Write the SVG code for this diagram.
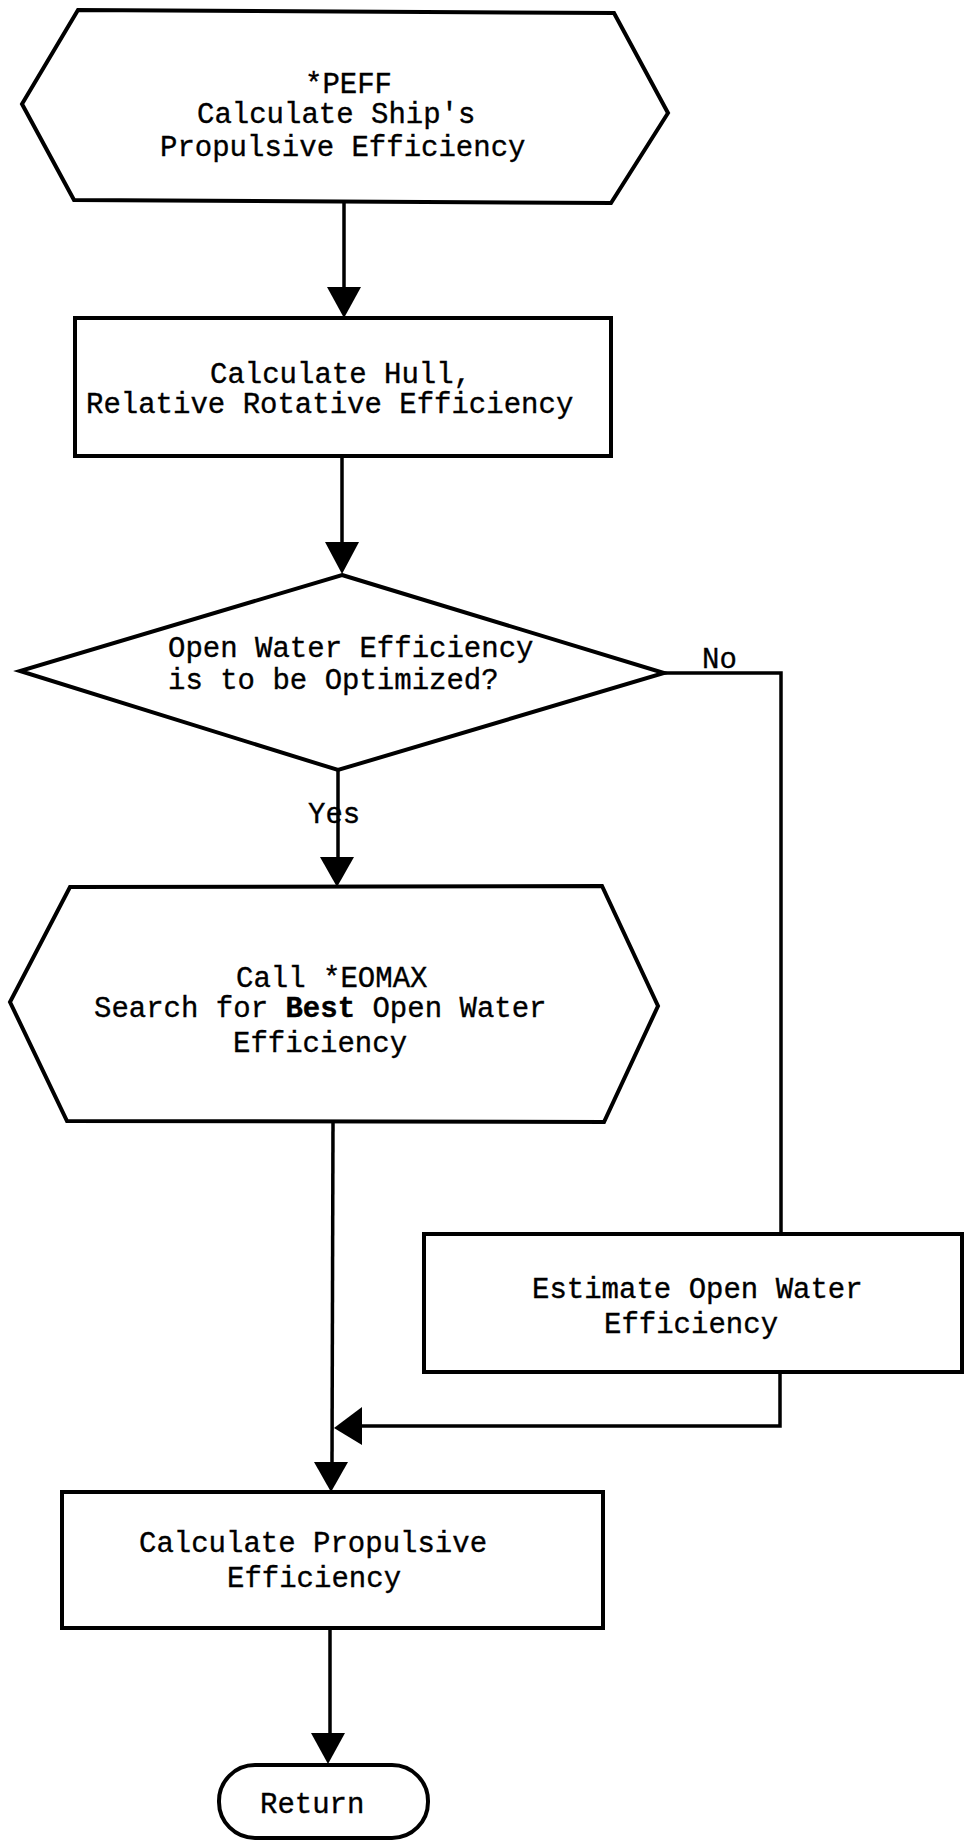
<svg xmlns="http://www.w3.org/2000/svg" width="969" height="1843" viewBox="0 0 969 1843">
  <style>
    .shape { fill: #ffffff; stroke: #000000; stroke-width: 4; stroke-linejoin: miter; }
    .wire { fill: none; stroke: #000000; stroke-width: 3.5; }
    .lbl { font-family: "Liberation Mono", "Courier New", monospace; font-size: 29px; fill: #000000; stroke: #000000; stroke-width: 0.35; }
  </style>
  <rect width="969" height="1843" fill="#ffffff"/>

  <!-- connectors -->
  <g id="connectors">
    <line class="wire" x1="344" y1="203" x2="344" y2="287"/>
    <path d="M327,287 L361,287 L344,318 Z" fill="#000000"/>

    <line class="wire" x1="342" y1="456" x2="342" y2="542"/>
    <path d="M325,542 L359,542 L342,574 Z" fill="#000000"/>

    <line class="wire" x1="338" y1="770" x2="338" y2="857"/>
    <path d="M320,857 L354,857 L337,887 Z" fill="#000000"/>

    <polyline class="wire" points="664,673 781,673 781,1235"/>

    <line class="wire" x1="333" y1="1121" x2="332" y2="1462"/>
    <polyline class="wire" points="780,1372 780,1426 362,1426"/>
    <path d="M362,1407 L362,1445 L334,1428 Z" fill="#000000"/>
    <path d="M314,1462 L348,1462 L331,1492 Z" fill="#000000"/>

    <line class="wire" x1="330" y1="1628" x2="330" y2="1733"/>
    <path d="M311,1733 L345,1733 L328,1764 Z" fill="#000000"/>

    <text class="lbl" x="702" y="668">No</text>
    <text class="lbl" x="308" y="823">Yes</text>
  </g>

  <!-- entry: *PEFF -->
  <g id="node-peff">
    <polygon class="shape" points="78,10 614,13 668,113 611,203 74,200 22,104"/>
    <text class="lbl" x="305" y="93">*PEFF</text>
    <text class="lbl" x="197" y="123">Calculate Ship's</text>
    <text class="lbl" x="160" y="156">Propulsive Efficiency</text>
  </g>

  <!-- hull and relative rotative efficiency -->
  <g id="node-hull">
    <rect class="shape" x="75" y="318" width="536" height="138"/>
    <text class="lbl" x="210" y="383">Calculate Hull,</text>
    <text class="lbl" x="86" y="413">Relative Rotative Efficiency</text>
  </g>

  <!-- decision -->
  <g id="node-decision">
    <polygon class="shape" points="342,575 664,673 338,770 20,671"/>
    <text class="lbl" x="168" y="657">Open Water Efficiency</text>
    <text class="lbl" x="168" y="689">is to be Optimized?</text>
  </g>

  <!-- subroutine call: *EOMAX -->
  <g id="node-eomax">
    <polygon class="shape" points="70,887 602,886 658,1006 604,1122 67,1121 10,1002"/>
    <text class="lbl" x="236" y="987">Call *EOMAX</text>
    <text class="lbl" x="94" y="1017">Search for <tspan font-weight="bold">Best</tspan> Open Water</text>
    <text class="lbl" x="233" y="1052">Efficiency</text>
  </g>

  <!-- estimate open water efficiency -->
  <g id="node-estimate">
    <rect class="shape" x="424" y="1234" width="538" height="138"/>
    <text class="lbl" x="532" y="1298">Estimate Open Water</text>
    <text class="lbl" x="604" y="1333">Efficiency</text>
  </g>

  <!-- propulsive efficiency -->
  <g id="node-propulsive">
    <rect class="shape" x="62" y="1492" width="541" height="136"/>
    <text class="lbl" x="139" y="1552">Calculate Propulsive</text>
    <text class="lbl" x="227" y="1587">Efficiency</text>
  </g>

  <!-- exit -->
  <g id="node-return">
    <rect class="shape" x="219" y="1765" width="209" height="73" rx="36" ry="36"/>
    <text class="lbl" x="260" y="1813">Return</text>
  </g>
</svg>
